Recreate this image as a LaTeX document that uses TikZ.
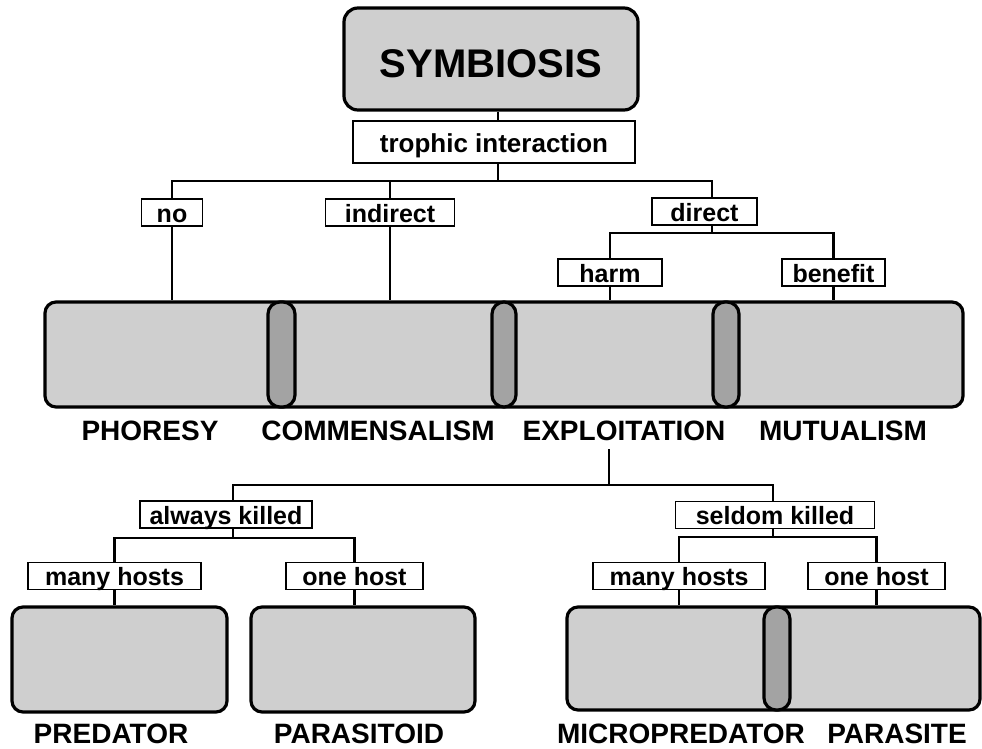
\documentclass[tikz,border=0pt]{standalone}
\usepackage{fontspec}
\setmainfont{Liberation Sans}
\begin{document}
\begin{tikzpicture}[x=1pt,y=-1pt,
  every node/.style={font=\bfseries},
  lbl/.style={draw, line width=1.6pt, fill=white, inner sep=0pt, minimum height=27pt,
     text height=19pt, text depth=0pt, font=\bfseries\fontsize{25}{30}\selectfont},
  bigbox/.style={draw, line width=3.2pt, rounded corners=11pt, fill=boxgray, inner sep=0pt},
  sepbox/.style={draw, line width=3.2pt, rounded corners=12pt, fill=sepgray},
  capt/.style={anchor=base, inner sep=0pt, font=\bfseries\fontsize{28}{32}\selectfont},
  conn/.style={line width=2.8pt}]
\definecolor{boxgray}{gray}{0.81}
\definecolor{sepgray}{gray}{0.64}
\path[use as bounding box, fill=white] (0,0) rectangle (982,749);

% top
\node[bigbox, rounded corners=14pt, minimum width=294pt, minimum height=102pt,
  text height=38pt, text depth=0pt, font=\bfseries\fontsize{40}{44}\selectfont] (sym) at (491,59) {SYMBIOSIS};
\node[lbl, minimum width=282pt, minimum height=42pt, text height=20pt,
  font=\bfseries\fontsize{26}{30}\selectfont] (troph) at (494,142) {trophic interaction\hspace{20pt}};

\node[lbl, minimum width=61pt] (no) at (172,212.5) {no};
\node[lbl, minimum width=129pt] (indirect) at (390,212.5) {indirect};
\node[lbl, minimum width=105pt] (direct) at (704.5,211.5) {direct};
\node[lbl, minimum width=104pt] (harm) at (610,272.5) {harm};
\node[lbl, minimum width=103pt] (benefit) at (833.5,272.5) {benefit};

% row of categories
\node[bigbox, minimum width=918pt, minimum height=105pt] (row) at (504,354.5) {};
\node[sepbox, minimum width=27pt, minimum height=105pt] (s1) at (281.5,354.5) {};
\node[sepbox, minimum width=24pt, minimum height=105pt] (s2) at (504,354.5) {};
\node[sepbox, minimum width=26pt, minimum height=105pt] (s3) at (726,354.5) {};

\node[capt] (phor) at (150,440) {PHORESY};
\node[capt] (comm) at (378,440) {COMMENSALISM};
\node[capt] (expl) at (624,440) {EXPLOITATION};
\node[capt] (mutu) at (843,440) {MUTUALISM};

% second level
\node[lbl, minimum width=172pt] (always) at (226,514.5) {always killed};
\node[lbl, minimum width=199pt] (seldom) at (775,515) {seldom killed};
\node[lbl, minimum width=173pt] (manyL) at (114.5,576) {many hosts};
\node[lbl, minimum width=137pt] (oneL) at (354.5,576) {one host};
\node[lbl, minimum width=172pt] (manyR) at (679,576) {many hosts};
\node[lbl, minimum width=137pt] (oneR) at (876.5,576) {one host};

\node[bigbox, minimum width=215pt, minimum height=105pt] (pred) at (119.5,659.5) {};
\node[bigbox, minimum width=224pt, minimum height=105pt] (paras) at (363,659.5) {};
\node[bigbox, minimum width=413pt, minimum height=103pt] (mp) at (773.5,658.5) {};
\node[sepbox, minimum width=26pt, minimum height=103pt] (s4) at (777,658.5) {};

\node[capt] (predc) at (111,743) {PREDATOR};
\node[capt] (parac) at (359,743) {PARASITOID};
\node[capt] (microc) at (681,743) {MICROPREDATOR};
\node[capt] (parasc) at (897,743) {PARASITE};

% junctions
\coordinate (c0) at (498,181);
\coordinate (dtop) at (712,181);
\coordinate (hb) at (712,233);
\coordinate (ex) at (609,485);
\coordinate (ak) at (233,485);
\coordinate (sk) at (773,485);
\coordinate (ak2) at (233,538);
\coordinate (sk2) at (773,537);

% connectors
\draw[conn] (sym.south -| c0) -- (troph.north -| c0);
\draw[conn] (troph.south -| c0) -- (c0);
\draw[conn] (no.north) |- (dtop) -- (dtop |- direct.north);
\draw[conn] (indirect.north) -- (indirect.north |- c0);
\draw[conn] (no.south) -- (no.south |- row.north);
\draw[conn] (indirect.south) -- (indirect.south |- row.north);
\draw[conn] (hb |- direct.south) -- (hb);
\draw[conn] (harm.north) |- (hb) -| (benefit.north);
\draw[conn] (harm.south) -- (harm.south |- row.north);
\draw[conn] (benefit.south) -- (benefit.south |- row.north);

\draw[conn] ([yshift=-9pt]expl.south -| ex) -- (ex);
\draw[conn] (ak |- always.north) -- (ak) -- (sk) -- (sk |- seldom.north);
\draw[conn] (ak |- always.south) -- (ak2);
\draw[conn] (manyL.north) |- (ak2) -| (oneL.north);
\draw[conn] (sk |- seldom.south) -- (sk2);
\draw[conn] (manyR.north) |- (sk2) -| (oneR.north);
\draw[conn] (manyL.south) -- (manyL.south |- pred.north);
\draw[conn] (oneL.south) -- (oneL.south |- paras.north);
\draw[conn] (manyR.south) -- (manyR.south |- mp.north);
\draw[conn] (oneR.south) -- (oneR.south |- mp.north);
\end{tikzpicture}
\end{document}
